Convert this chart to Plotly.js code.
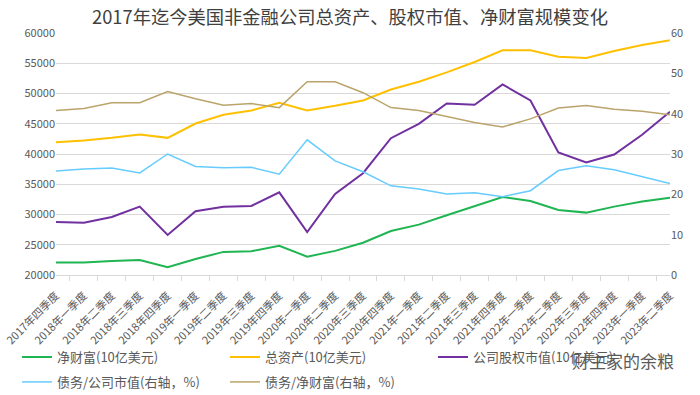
<!DOCTYPE html>
<html>
<head>
<meta charset="utf-8">
<script src="https://cdn.plot.ly/plotly-3.0.1.min.js"></script>
<style>html,body{margin:0;padding:0;background:#fff;}#chart{width:700px;height:395px;}</style>
</head>
<body>
<div id="chart"></div>
<script>
const categories = ["2017年四季度","2018年一季度","2018年二季度","2018年三季度","2018年四季度","2019年一季度","2019年二季度","2019年三季度","2019年四季度","2020年一季度","2020年二季度","2020年三季度","2020年四季度","2021年一季度","2021年二季度","2021年三季度","2021年四季度","2022年一季度","2022年二季度","2022年三季度","2022年四季度","2023年一季度","2023年二季度"];
const netWorth = [22080,22080,22300,22470,21280,22650,23820,23940,24830,23040,23990,25340,27270,28320,29870,31410,32900,32240,30750,30310,31300,32130,32790];
const totalAssets = [41950,42230,42670,43220,42670,45040,46480,47200,48465,47200,47970,48850,50670,51940,53490,55200,57130,57130,56080,55860,57020,58010,58790];
const equityValue = [28760,28650,29590,31300,26610,30530,31300,31410,33670,27110,33400,36820,42615,44990,48355,48130,51500,48850,40240,38590,39910,43170,46975];
const debtToEquity = [25.8,26.3,26.5,25.3,30.0,26.9,26.6,26.7,25.0,33.5,28.3,25.6,22.1,21.3,20.1,20.4,19.4,20.9,25.9,27.1,26.1,24.4,22.7];
const debtToNetWorth = [40.8,41.3,42.7,42.7,45.5,43.7,42.1,42.5,41.5,47.9,47.9,45.2,41.5,40.8,39.3,37.8,36.7,38.7,41.4,42.0,41.1,40.6,39.7];
const leftTicks = [20000,25000,30000,35000,40000,45000,50000,55000,60000];
const rightTicks = [0,10,20,30,40,50,60];

const font = "'Noto Sans CJK SC', 'Noto Sans', sans-serif";
const traces = [
  {x: categories, y: netWorth, name: "净财富(10亿美元)", type: "scatter", mode: "lines", legend: "legend", line: {color: "#1FB552", width: 2}},
  {x: categories, y: totalAssets, name: "总资产(10亿美元)", type: "scatter", mode: "lines", legend: "legend", line: {color: "#FFC000", width: 2}},
  {x: categories, y: equityValue, name: "公司股权市值(10亿美元)", type: "scatter", mode: "lines", legend: "legend", line: {color: "#7030A0", width: 2}},
  {x: categories, y: debtToEquity, name: "债务/公司市值(右轴，%)", type: "scatter", mode: "lines", yaxis: "y2", legend: "legend2", line: {color: "#66CCFF", width: 1.5}},
  {x: categories, y: debtToNetWorth, name: "债务/净财富(右轴，%)", type: "scatter", mode: "lines", yaxis: "y2", legend: "legend2", line: {color: "#BBA46B", width: 1.5}}
];
const legendBase = {orientation: "h", x: -0.0635, xanchor: "left", yanchor: "top", entrywidth: 163, entrywidthmode: "pixels", font: {family: font, size: 13, color: "#595959"}, bgcolor: "rgba(0,0,0,0)"};
const layout = {
  width: 700, height: 395,
  margin: {l: 56, r: 30, t: 33, b: 120, autoexpand: false},
  paper_bgcolor: "#fff", plot_bgcolor: "#fff",
  font: {family: font, color: "#595959", size: 11},
  title: {text: "2017年迄今美国非金融公司总资产、股权市值、净财富规模变化", x: 0.5, xref: "container", y: 0.955, yref: "container", yanchor: "middle", font: {family: font, size: 18.3, color: "#404040"}},
  xaxis: {type: "category", tickangle: -45, tickson: "boundaries", ticks: "outside", ticklen: 5, tickcolor: "#D9D9D9", ticklabelstandoff: 9, showline: true, linecolor: "#D9D9D9", showgrid: false, tickfont: {size: 11, color: "#595959"}, automargin: false},
  yaxis: {range: [20000, 60000], tickvals: leftTicks, ticktext: leftTicks.map(String), showgrid: true, gridcolor: "#D9D9D9", zeroline: false, showline: false, ticks: "", tickfont: {size: 11, color: "#595959"}, automargin: false},
  yaxis2: {range: [0, 60], tickvals: rightTicks, overlaying: "y", side: "right", showgrid: false, zeroline: false, showline: false, ticks: "", tickfont: {size: 11, color: "#595959"}, automargin: false},
  showlegend: true,
  legend: Object.assign({}, legendBase, {y: -0.277}),
  legend2: Object.assign({}, legendBase, {y: -0.380}),
  annotations: [
    {text: "财主家的余粮", xref: "paper", yref: "paper", x: 1.0098, xanchor: "right", y: -0.355, yanchor: "middle", showarrow: false, font: {family: font, size: 17, color: "#5A5A5A"}}
  ]
};
Plotly.newPlot("chart", traces, layout, {displayModeBar: false, staticPlot: true});
</script>
</body>
</html>
